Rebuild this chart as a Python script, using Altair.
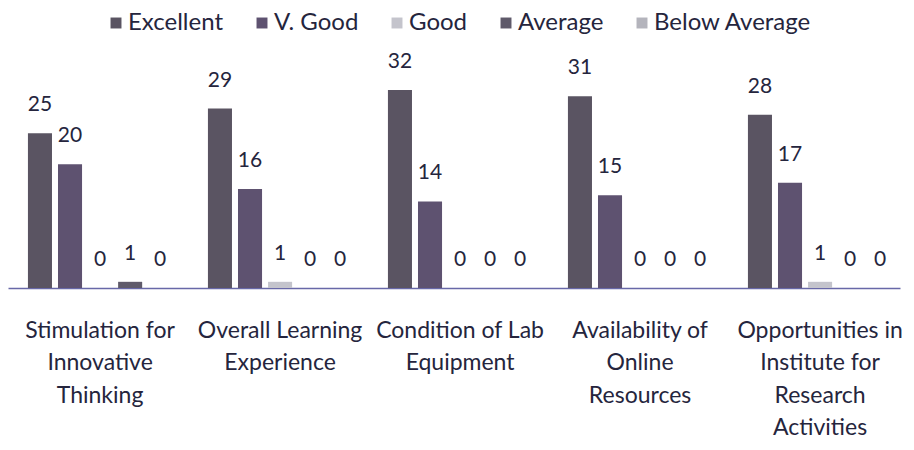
import altair as alt
import pandas as pd

categories = [
    "Stimulation for|Innovative|Thinking",
    "Overall Learning|Experience",
    "Condition of Lab|Equipment",
    "Availability of|Online|Resources",
    "Opportunities in|Institute for|Research|Activities",
]
series = ["Excellent", "V. Good", "Good", "Average", "Below Average"]
excellent = [25, 29, 32, 31, 28]
v_good = [20, 16, 14, 15, 17]
good = [0, 1, 0, 0, 1]
average = [1, 0, 0, 0, 0]
below_average = [0, 0, 0, 0, 0]
colors = ["#5a5462", "#5e5270", "#c4c4cc", "#5f5a6a", "#b4b4bc"]

rows = []
for i, c in enumerate(categories):
    for s, vals in zip(series, [excellent, v_good, good, average, below_average]):
        rows.append({"category": c, "series": s, "value": vals[i]})
df = pd.DataFrame(rows)

FONT = "Lato"
TXT = "#25253d"

x = alt.X(
    "category:N",
    sort=categories,
    scale=alt.Scale(paddingInner=0.165, paddingOuter=0.0603, align=0.78),
    axis=alt.Axis(
        title=None,
        labelAngle=0,
        labelExpr="split(datum.label, '|')",
        ticks=False,
        labelFontSize=23,
        labelFont=FONT,
        labelColor=TXT,
        labelPadding=31,
        labelLineHeight=32.5,
        labelBaseline="top",
        labelLimit=400,
        domainColor="#6868a8",
        domainWidth=1.5,
        grid=False,
    ),
)
xoff = alt.XOffset("series:N", sort=series, scale=alt.Scale(paddingInner=0.2, paddingOuter=0.1))
y = alt.Y("value:Q", scale=alt.Scale(domain=[0, 39.6]), axis=None)

color = alt.Color(
    "series:N",
    sort=series,
    scale=alt.Scale(domain=series, range=colors),
    legend=alt.Legend(
        title=None,
        orient="none",
        legendX=96,
        legendY=-32,
        direction="horizontal",
        symbolType="square",
        symbolSize=120,
        symbolStrokeWidth=0,
        labelFontSize=24,
        labelFont=FONT,
        labelColor=TXT,
        labelLimit=400,
        columnPadding=26,
        labelOffset=0,
        padding=0,
    ),
)

bars = alt.Chart(df).mark_bar().encode(x=x, xOffset=xoff, y=y, color=color)
text = alt.Chart(df).mark_text(baseline="bottom", dy=-18, fontSize=21, font=FONT, color=TXT).encode(
    x=x, xOffset=xoff, y=y, text="value:Q"
)

chart = (
    alt.layer(bars, text)
    .properties(
        width=892,
        height=245,
        padding={"left": 0, "top": 35, "right": 6, "bottom": 154},
        autosize=alt.AutoSizeParams(type="none"),
    )
    .configure_view(stroke=None)
)

chart.save("out.html", embed_options={"renderer": "svg", "actions": False})
